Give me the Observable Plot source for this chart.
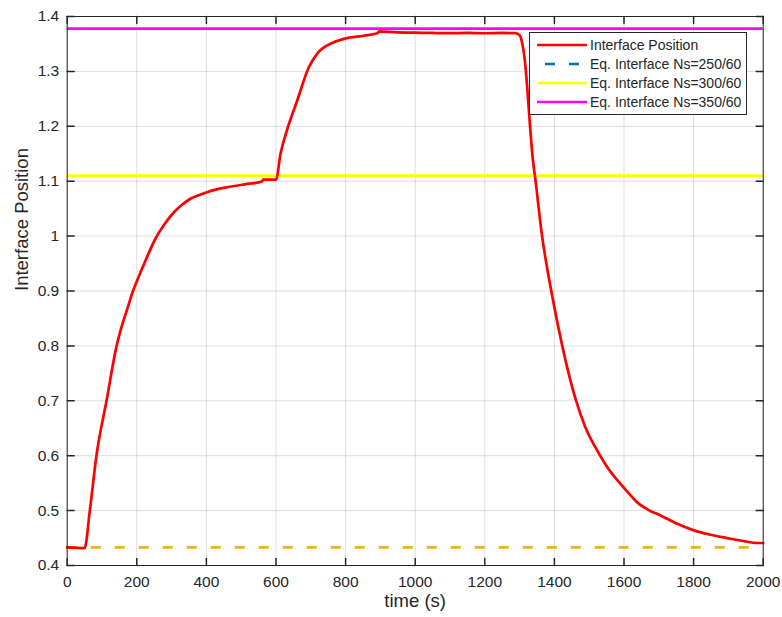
<!DOCTYPE html>
<html>
<head>
<meta charset="utf-8">
<script src="https://cdn.jsdelivr.net/npm/d3@7"></script>
<script src="https://cdn.jsdelivr.net/npm/@observablehq/plot@0.6"></script>
<style>
  body { margin: 0; background: #fff; }
  #wrap { position: relative; width: 782px; height: 617px; font-family: "Liberation Sans", Arial, Helvetica, sans-serif; }
  #wrap > svg { position: absolute; left: 0; top: 0; }
</style>
</head>
<body>
<div id="wrap"></div>
<script>
// ---- data ----
const timeS = [0, 50, 65, 84, 113, 142, 156, 175, 189, 201, 222, 255, 280, 306, 330, 354, 380, 402, 430, 460, 517, 560, 563, 600, 613, 632, 661, 694, 718, 766, 800, 852, 891, 898, 948, 1000, 1050, 1092, 1150, 1200, 1250, 1288, 1300, 1308, 1315, 1322, 1330, 1338, 1345, 1364, 1394, 1424, 1460, 1489, 1518, 1552, 1600, 1638, 1671, 1705, 1753, 1801, 1849, 1897, 1944, 1983, 2000];
const interfacePos = [0.433, 0.4315, 0.50, 0.60, 0.70, 0.80, 0.834, 0.872, 0.90, 0.919, 0.951, 0.997, 1.022, 1.043, 1.057, 1.068, 1.075, 1.080, 1.085, 1.089, 1.095, 1.0995, 1.103, 1.103, 1.150, 1.194, 1.247, 1.307, 1.332, 1.353, 1.360, 1.365, 1.3696, 1.373, 1.371, 1.3705, 1.370, 1.3697, 1.370, 1.3695, 1.370, 1.3696, 1.366, 1.350, 1.320, 1.270, 1.200, 1.140, 1.105, 1.003, 0.890, 0.796, 0.705, 0.652, 0.615, 0.579, 0.5415, 0.515, 0.501, 0.491, 0.476, 0.464, 0.456, 0.450, 0.4443, 0.441, 0.441];

const eqNames  = ["Eq. Interface Ns=250/60", "Eq. Interface Ns=300/60", "Eq. Interface Ns=350/60"];
const eqValues = [0.433, 1.110, 1.378];
const eqColors = ["#EDB120", "#FFFF00", "#FF00FF"];
const eqDashed = [true, false, false];

const legendLabels = ["Interface Position", ...eqNames];
const legendColors = ["#FF0000", "#0072BD", "#FFFF00", "#FF00FF"];
const legendDashed = [false, true, false, false];

const xTicks = [0, 200, 400, 600, 800, 1000, 1200, 1400, 1600, 1800, 2000];
const xTickLabels = ["0", "200", "400", "600", "800", "1000", "1200", "1400", "1600", "1800", "2000"];
const yTicks = [0.4, 0.5, 0.6, 0.7, 0.8, 0.9, 1.0, 1.1, 1.2, 1.3, 1.4];
const yTickLabels = ["0.4", "0.5", "0.6", "0.7", "0.8", "0.9", "1", "1.1", "1.2", "1.3", "1.4"];

// ---- build ----
const series = timeS.map((t, i) => ({t, v: interfacePos[i]}));
const eqTable = eqValues.map((v, i) => ({v, color: eqColors[i], dashed: eqDashed[i], name: eqNames[i]}));
const ink = "#262626";
const FONT = '"Liberation Sans", Arial, Helvetica, sans-serif';
const tickShape = {draw(ctx, l) { ctx.moveTo(0, 0); ctx.lineTo(0, -l); }};

const plot = Plot.plot({
  width: 782,
  height: 617,
  marginLeft: 66.7,
  marginRight: 19.3,
  marginTop: 16,
  marginBottom: 52,
  style: {fontFamily: FONT, fontSize: "15.5px", color: ink, background: "transparent"},
  x: {domain: [0, 2000]},
  y: {domain: [0.4, 1.4]},
  marks: [
    Plot.gridX(xTicks, {stroke: "#000", strokeOpacity: 0.13}),
    Plot.gridY(yTicks, {stroke: "#000", strokeOpacity: 0.13}),
    Plot.ruleY(eqTable.filter(d => d.dashed), {y: "v", stroke: "color", strokeWidth: 2.7, strokeDasharray: "10,14"}),
    Plot.ruleY(eqTable.filter(d => !d.dashed), {y: "v", stroke: "color", strokeWidth: 2.7}),
    Plot.line(series, {x: "t", y: "v", stroke: "#FF0000", strokeWidth: 2.7, curve: "monotone-x", strokeLinejoin: "round"}),
    Plot.frame({stroke: ink, strokeWidth: 1}),
    Plot.vector(xTicks, {x: d => d, frameAnchor: "bottom", length: 7, rotate: 0, anchor: "start", shape: tickShape, stroke: ink}),
    Plot.vector(xTicks, {x: d => d, frameAnchor: "top", length: 7, rotate: 180, anchor: "start", shape: tickShape, stroke: ink}),
    Plot.vector(yTicks, {y: d => d, frameAnchor: "left", length: 7, rotate: 90, anchor: "start", shape: tickShape, stroke: ink}),
    Plot.vector(yTicks, {y: d => d, frameAnchor: "right", length: 7, rotate: -90, anchor: "start", shape: tickShape, stroke: ink}),
    Plot.axisX(xTicks, {tickSize: 0, tickPadding: 10, label: null, fill: ink, tickFormat: (d, i) => xTickLabels[i]}),
    Plot.axisY(yTicks, {tickSize: 0, tickPadding: 8, label: null, fill: ink, tickFormat: (d, i) => yTickLabels[i]}),
    Plot.text(["time (s)"], {frameAnchor: "bottom", dy: 36, fontSize: 18.5, lineAnchor: "middle", fill: ink}),
    Plot.text(["Interface Position"], {frameAnchor: "left", rotate: -90, dx: -45, fontSize: 18.5, lineAnchor: "middle", fill: ink})
  ]
});
document.getElementById("wrap").appendChild(plot);

// ---- legend ----
const lg = d3.select("#wrap").append("svg")
  .attr("width", 219).attr("height", 84)
  .style("position", "absolute").style("left", "529px").style("top", "32px");
lg.append("rect").attr("x", 0.5).attr("y", 0.5).attr("width", 217).attr("height", 82)
  .attr("fill", "#fff").attr("stroke", ink).attr("stroke-width", 1);
legendLabels.forEach((lab, i) => {
  const cy = 13 + i * 19;
  lg.append("line").attr("x1", 8).attr("x2", 58).attr("y1", cy).attr("y2", cy)
    .attr("stroke", legendColors[i]).attr("stroke-width", 2.7)
    .attr("stroke-dasharray", legendDashed[i] ? "10,14" : null)
    .attr("stroke-dashoffset", legendDashed[i] ? -8 : null);
  lg.append("text").attr("x", 61).attr("y", cy).attr("dy", "0.35em")
    .attr("font-size", 14).attr("fill", ink)
    .attr("font-family", FONT)
    .text(lab);
});
</script>
</body>
</html>
